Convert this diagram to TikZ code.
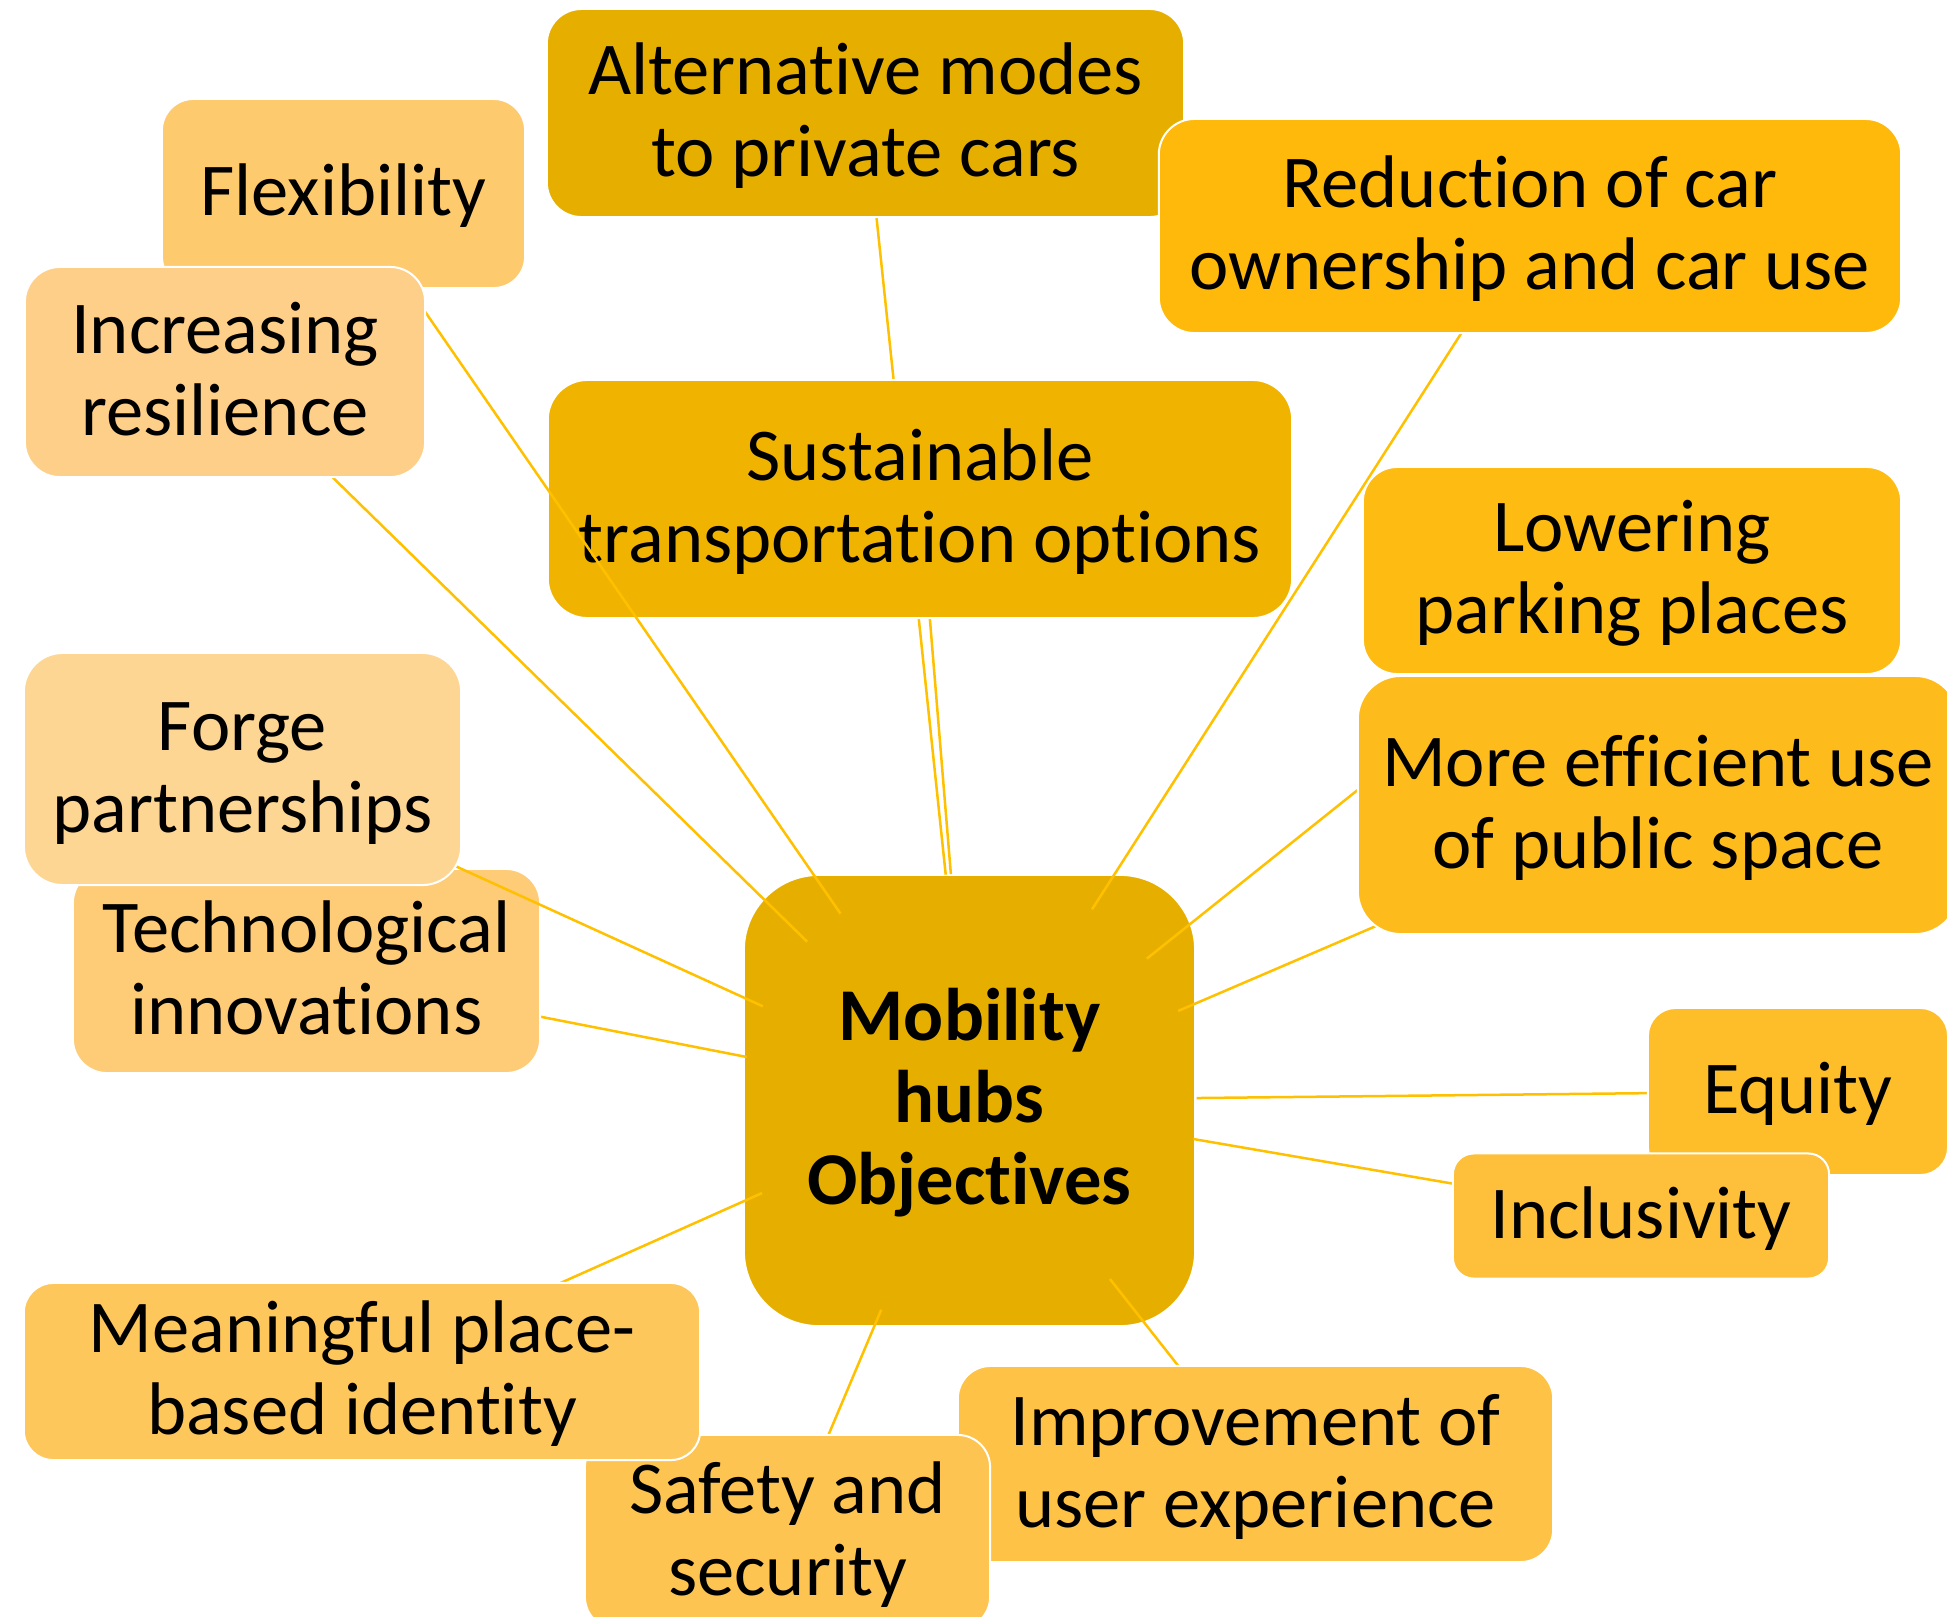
\documentclass[tikz,border=0pt]{standalone}
\usepackage{fontspec}
\setmainfont[Ligatures={NoCommon}]{Carlito}
\usetikzlibrary{calc}
\definecolor{hubc}{HTML}{E6AF00}
\definecolor{altc}{HTML}{E6AF00}
\definecolor{sustc}{HTML}{F0B400}
\definecolor{redc}{HTML}{FEB90A}
\definecolor{lowc}{HTML}{FEBB12}
\definecolor{effc}{HTML}{FEBC1C}
\definecolor{equc}{HTML}{FEBE2A}
\definecolor{incc}{HTML}{FEC03A}
\definecolor{impc}{HTML}{FEC246}
\definecolor{safc}{HTML}{FEC452}
\definecolor{meac}{HTML}{FEC75C}
\definecolor{tecc}{HTML}{FECB76}
\definecolor{forc}{HTML}{FED694}
\definecolor{flexc}{HTML}{FECA6E}
\definecolor{resc}{HTML}{FECF88}
\definecolor{linec}{HTML}{FFC000}
\tikzset{
  box/.style={draw=white, line width=0.02cm, align=center, inner sep=0pt,
    text=black, font=\fontsize{21.2}{23.3}\selectfont, text depth=0.16cm},
  oneline/.style={text height=0.60cm},
  twoline/.style={text height=1.42cm},
  threeline/.style={text height=2.24cm},
  conn/.style={draw=linec, line width=0.025cm},
}
\begin{document}
\begin{tikzpicture}[x=0.01cm,y=-0.01cm]
\useasboundingbox (0,0) rectangle (1947,1617);
\clip (0,0) rectangle (1947,1617);
% hub
\node[box, threeline, fill=hubc, minimum width=4.51cm, minimum height=4.51cm, rounded corners=0.75cm,
  font=\fontsize{21.2}{23.3}\selectfont\bfseries] (hub) at (969.5,1100.5) {Mobility\\hubs\\Objectives};
% centres of the objective boxes
\coordinate (palt) at (865.5,113);
\coordinate (psust) at (920,499);
\coordinate (pred) at (1530,226);
\coordinate (plow) at (1632,570.5);
\coordinate (peff) at (1658,805);
\coordinate (pequ) at (1798,1091.5);
\coordinate (pinc) at (1641,1216);
\coordinate (pimp) at (1255.5,1464);
\coordinate (psaf) at (787.5,1532);
\coordinate (pmea) at (362,1371.5);
\coordinate (ptec) at (306.5,971);
\coordinate (pfor) at (242.5,769);
\coordinate (pflex) at (343.5,193.5);
\coordinate (pres) at (225,372);
% Alternative modes
\draw[conn] ($(hub.center)!2.27cm!(palt)$) -- (palt);
\node[box, twoline, fill=altc, minimum width=6.37cm, minimum height=2.08cm, rounded corners=0.347cm] (alt) at (palt) {Alternative modes\\to private cars};
% Sustainable
\draw[conn] ($(hub.center)!2.27cm!(psust)$) -- (psust);
\node[box, twoline, fill=sustc, minimum width=7.44cm, minimum height=2.38cm, rounded corners=0.397cm] (sust) at (psust) {Sustainable\\transportation options};
% Reduction
\draw[conn] ($(hub.center)!2.27cm!(pred)$) -- (pred);
\node[box, twoline, fill=redc, minimum width=7.42cm, minimum height=2.14cm, rounded corners=0.357cm] (red) at (pred) {Reduction of car\\ownership and car use};
% Lowering
\draw[conn] ($(hub.center)!2.27cm!(plow)$) -- (plow);
\node[box, twoline, fill=lowc, minimum width=5.38cm, minimum height=2.07cm, rounded corners=0.345cm] (low) at (plow) {Lowering\\parking places};
% More efficient
\draw[conn] ($(hub.center)!2.27cm!(peff)$) -- (peff);
\node[box, twoline, fill=effc, minimum width=6.00cm, minimum height=2.58cm, rounded corners=0.43cm] (eff) at (peff) {More efficient use\\of public space};
% Equity
\draw[conn] ($(hub.center)!2.27cm!(pequ)$) -- (pequ);
\node[box, oneline, fill=equc, minimum width=3.00cm, minimum height=1.67cm, rounded corners=0.278cm] (equ) at (pequ) {Equity};
% Inclusivity
\draw[conn] ($(hub.center)!2.27cm!(pinc)$) -- (pinc);
\node[box, oneline, fill=incc, minimum width=3.76cm, minimum height=1.25cm, rounded corners=0.208cm] (inc) at (pinc) {Inclusivity};
% Improvement
\draw[conn] ($(hub.center)!2.27cm!(pimp)$) -- (pimp);
\node[box, twoline, fill=impc, minimum width=5.95cm, minimum height=1.96cm, rounded corners=0.327cm] (imp) at (pimp) {Improvement of\\user experience};
% Safety
\draw[conn] ($(hub.center)!2.27cm!(psaf)$) -- (psaf);
\node[box, twoline, fill=safc, minimum width=4.05cm, minimum height=1.94cm, rounded corners=0.323cm] (saf) at (psaf) {Safety and\\security};
% Meaningful
\draw[conn] ($(hub.center)!2.27cm!(pmea)$) -- (pmea);
\node[box, twoline, fill=meac, minimum width=6.76cm, minimum height=1.77cm, rounded corners=0.295cm] (mea) at (pmea) {Meaningful place-\\based identity};
% Technological
\draw[conn] ($(hub.center)!2.27cm!(ptec)$) -- (ptec);
\node[box, twoline, fill=tecc, minimum width=4.67cm, minimum height=2.04cm, rounded corners=0.34cm] (tec) at (ptec) {Technological\\innovations};
% Forge
\draw[conn] ($(hub.center)!2.27cm!(pfor)$) -- (pfor);
\node[box, twoline, fill=forc, minimum width=4.37cm, minimum height=2.32cm, rounded corners=0.387cm] (for) at (pfor) {Forge\\partnerships};
% Flexibility
\draw[conn] ($(hub.center)!2.27cm!(pflex)$) -- (pflex);
\node[box, oneline, fill=flexc, minimum width=3.63cm, minimum height=1.89cm, rounded corners=0.315cm] (flex) at (pflex) {Flexibility};
% Increasing resilience
\draw[conn] ($(hub.center)!2.27cm!(pres)$) -- (pres);
\node[box, twoline, fill=resc, minimum width=4.00cm, minimum height=2.10cm, rounded corners=0.35cm] (res) at (pres) {Increasing\\resilience};
\end{tikzpicture}
\end{document}
